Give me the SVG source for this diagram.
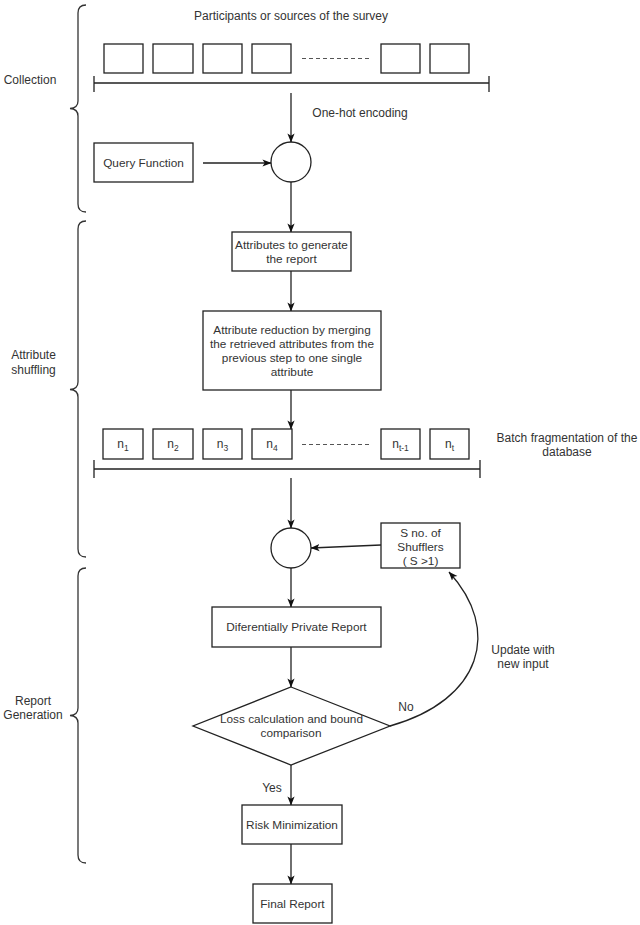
<svg xmlns="http://www.w3.org/2000/svg" width="640" height="925" viewBox="0 0 640 925">
<style>
.box{fill:#fff;stroke:#222;stroke-width:1.3}
.ln{fill:none;stroke:#222;stroke-width:1.3}
.dash{fill:none;stroke:#555;stroke-width:1.2;stroke-dasharray:4 3}
.br{fill:none;stroke:#333;stroke-width:1.3}
text{font-family:"Liberation Sans",Arial,sans-serif;font-size:12px;fill:#333;text-anchor:middle}
.s{font-size:11.8px}
</style>
<defs>
<marker id="arr" viewBox="0 0 10 10" refX="9.5" refY="5" markerWidth="9" markerHeight="9" markerUnits="userSpaceOnUse" orient="auto">
<path d="M0,1 L10,5 L0,9 L2.5,5 z" fill="#111"/>
</marker>
</defs>
<rect width="640" height="925" fill="#fff"/>

<g id="brackets">
<path class="br" d="M86,5 Q78,5 78,13 L78,101 Q78,108 70,108.5 Q78,109 78,116 L78,204 Q78,212 86,212"/>
<path class="br" d="M86,221 Q78,221 78,229 L78,382 Q78,389 70,389.5 Q78,390 78,397 L78,549 Q78,557 86,557"/>
<path class="br" d="M86,568 Q78,568 78,576 L78,708 Q78,715 70,715.5 Q78,716 78,723 L78,855 Q78,863 86,863"/>
<text x="30" y="84">Collection</text>
<text x="33.5" y="359">Attribute</text>
<text x="33.5" y="374">shuffling</text>
<text x="33" y="705">Report</text>
<text x="33" y="719">Generation</text>
</g>

<g id="participants">
<text x="291" y="20">Participants or sources of the survey</text>
<rect class="box" x="104" y="44" width="39" height="29"/>
<rect class="box" x="153" y="44" width="40" height="29"/>
<rect class="box" x="203" y="44" width="39" height="29"/>
<rect class="box" x="252" y="44" width="39" height="29"/>
<line class="dash" x1="302" y1="58.5" x2="370" y2="58.5"/>
<rect class="box" x="381" y="44" width="39" height="29"/>
<rect class="box" x="430" y="44" width="39" height="29"/>
<path class="ln" d="M94,83 L489,83 M94,76 L94,92 M489,76 L489,92"/>
</g>

<g id="onehot-label"><text x="360" y="117">One-hot encoding</text></g>

<g id="query">
<rect class="box" x="94" y="143" width="99" height="39"/>
<text class="s" x="143.5" y="167">Query Function</text>
</g>

<g id="join1"><circle class="box" cx="291" cy="162" r="20"/></g>

<g id="attributes">
<rect class="box" x="232" y="232" width="119" height="39"/>
<text class="s" x="291.5" y="249">Attributes to generate</text>
<text class="s" x="291.5" y="263">the report</text>
</g>

<g id="reduction">
<rect class="box" x="203" y="311" width="178" height="79"/>
<text class="s" x="292" y="334">Attribute reduction by merging</text>
<text class="s" x="292" y="348">the retrieved attributes from the</text>
<text class="s" x="292" y="362">previous step to one single</text>
<text class="s" x="292" y="376">attribute</text>
</g>

<g id="batches">
<rect class="box" x="103" y="429" width="40" height="30"/>
<text x="123" y="448">n<tspan font-size="8.5" dy="3">1</tspan></text>
<rect class="box" x="153" y="429" width="40" height="30"/>
<text x="173" y="448">n<tspan font-size="8.5" dy="3">2</tspan></text>
<rect class="box" x="203" y="429" width="39" height="30"/>
<text x="222.5" y="448">n<tspan font-size="8.5" dy="3">3</tspan></text>
<rect class="box" x="252" y="429" width="40" height="30"/>
<text x="272" y="448">n<tspan font-size="8.5" dy="3">4</tspan></text>
<line class="dash" x1="302" y1="444.5" x2="370" y2="444.5"/>
<rect class="box" x="381" y="429" width="39" height="30"/>
<text x="400.5" y="448">n<tspan font-size="8.5" dy="3">t-1</tspan></text>
<rect class="box" x="430" y="429" width="39" height="30"/>
<text x="449.5" y="448">n<tspan font-size="8.5" dy="3">t</tspan></text>
<path class="ln" d="M94,469 L480,469 M94,460 L94,478 M480,460 L480,478"/>
<text x="567" y="442">Batch fragmentation of the</text>
<text x="567" y="456">database</text>
</g>

<g id="join2"><circle class="box" cx="291" cy="548" r="20"/></g>

<g id="shufflers">
<rect class="box" x="381" y="523" width="79" height="45"/>
<text class="s" x="420.5" y="537">S no. of</text>
<text class="s" x="420.5" y="551">Shufflers</text>
<text class="s" x="420.5" y="565">( S &gt;1)</text>
</g>

<g id="dp-report">
<rect class="box" x="212" y="607" width="169" height="40"/>
<text class="s" x="296.5" y="631">Diferentially Private Report</text>
</g>

<g id="loss">
<path class="box" d="M291,687 L390,726 L291,765 L193,726 Z"/>
<text class="s" x="291.5" y="723">Loss calculation and bound</text>
<text class="s" x="291" y="737">comparison</text>
</g>

<g id="risk">
<rect class="box" x="242" y="805" width="100" height="39"/>
<text class="s" x="292" y="829">Risk Minimization</text>
</g>

<g id="final">
<rect class="box" x="253" y="884" width="79" height="39"/>
<text class="s" x="292.5" y="908">Final Report</text>
</g>

<g id="connectors">
<line class="ln" x1="291" y1="93" x2="291" y2="142" marker-end="url(#arr)"/>
<line class="ln" x1="203" y1="163" x2="271" y2="163" marker-end="url(#arr)"/>
<line class="ln" x1="291" y1="182" x2="291" y2="232" marker-end="url(#arr)"/>
<line class="ln" x1="291" y1="271" x2="291" y2="311" marker-end="url(#arr)"/>
<line class="ln" x1="291" y1="390" x2="291" y2="429" marker-end="url(#arr)"/>
<line class="ln" x1="291" y1="478" x2="291" y2="528" marker-end="url(#arr)"/>
<line class="ln" x1="381" y1="545" x2="311" y2="548" marker-end="url(#arr)"/>
<line class="ln" x1="291" y1="568" x2="291" y2="607" marker-end="url(#arr)"/>
<line class="ln" x1="291" y1="647" x2="291" y2="687" marker-end="url(#arr)"/>
<line class="ln" x1="291" y1="765" x2="291" y2="805" marker-end="url(#arr)"/>
<line class="ln" x1="291" y1="844" x2="291" y2="884" marker-end="url(#arr)"/>
<path class="ln" d="M390,726 C482,700 502,630 449,572" marker-end="url(#arr)"/>
<text x="406" y="711">No</text>
<text x="523" y="654">Update with</text>
<text x="523" y="668">new input</text>
<text x="272" y="792">Yes</text>
</g>
</svg>
